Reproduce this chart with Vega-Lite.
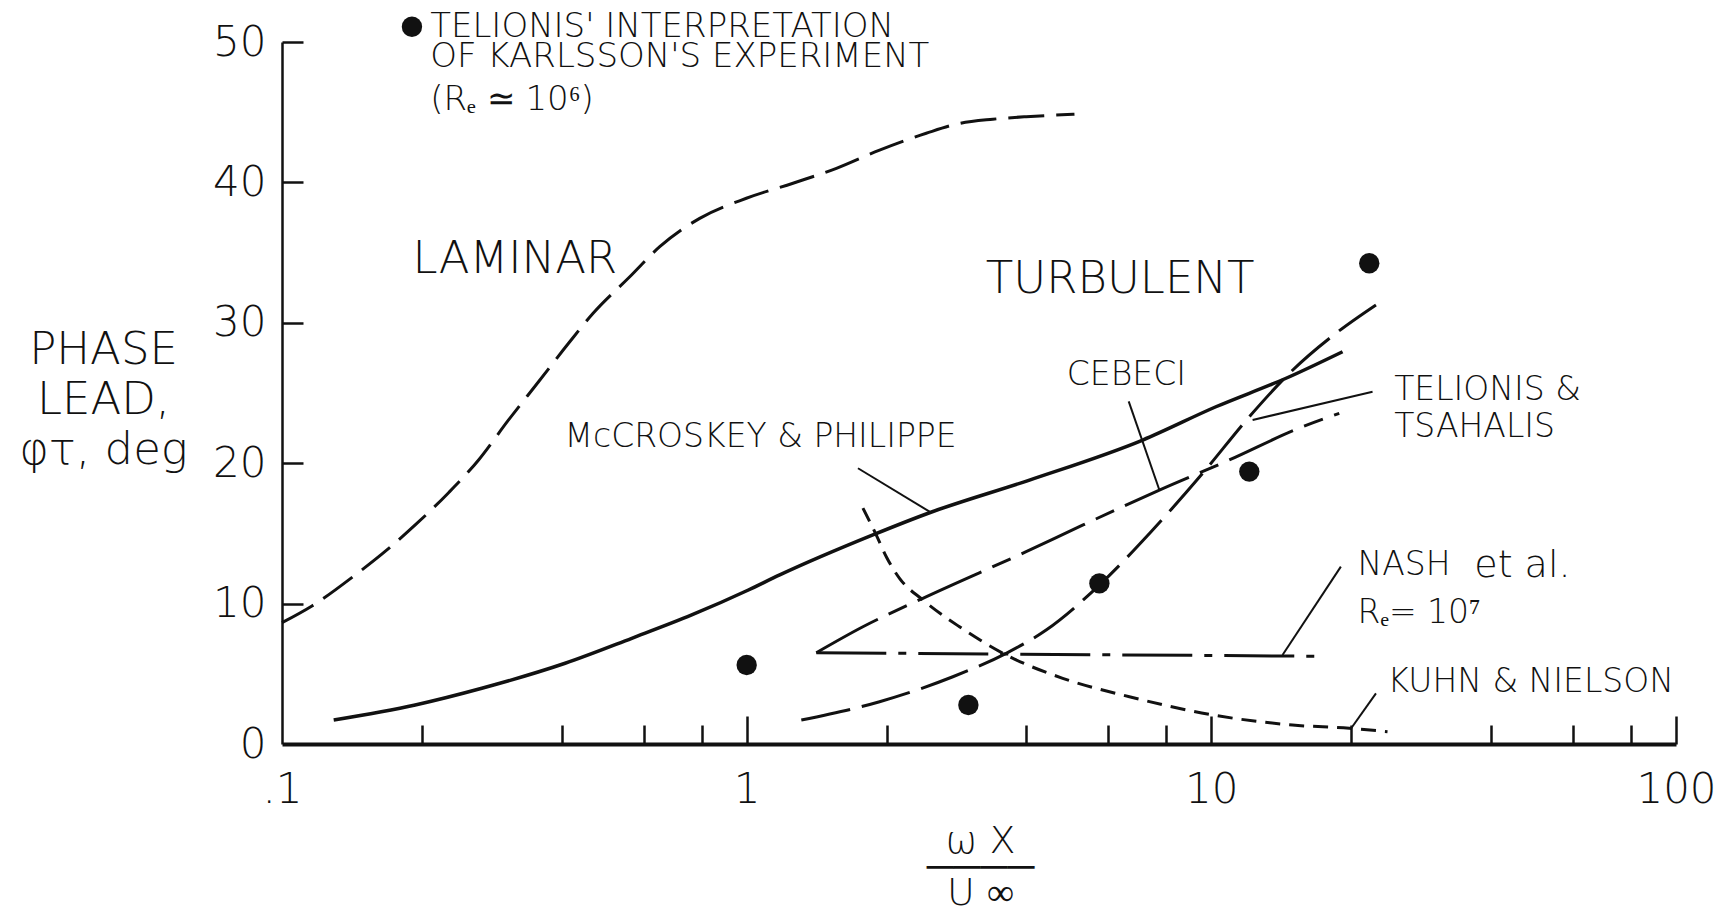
{
  "$schema": "https://vega.github.io/schema/vega-lite/v6.json",
  "width": 1394,
  "height": 702,
  "autosize": {"type": "none"},
  "padding": {"left": 282, "top": 42, "right": 59, "bottom": 176},
  "background": "white",
  "config": {"view": {"stroke": null}, "font": "DejaVu Sans"},
  "datasets": {
    "curves": [
      {"s": "Laminar", "x": 0.1, "y": 8.64},
      {"s": "Laminar", "x": 0.116, "y": 9.83},
      {"s": "Laminar", "x": 0.1438, "y": 12.04},
      {"s": "Laminar", "x": 0.1682, "y": 13.82},
      {"s": "Laminar", "x": 0.1935, "y": 15.6},
      {"s": "Laminar", "x": 0.2283, "y": 17.9},
      {"s": "Laminar", "x": 0.2649, "y": 20.23},
      {"s": "Laminar", "x": 0.3073, "y": 23.08},
      {"s": "Laminar", "x": 0.3565, "y": 25.8},
      {"s": "Laminar", "x": 0.4137, "y": 28.54},
      {"s": "Laminar", "x": 0.4672, "y": 30.68},
      {"s": "Laminar", "x": 0.5603, "y": 33.28},
      {"s": "Laminar", "x": 0.65, "y": 35.42},
      {"s": "Laminar", "x": 0.7924, "y": 37.44},
      {"s": "Laminar", "x": 0.9985, "y": 38.87},
      {"s": "Laminar", "x": 1.258, "y": 39.94},
      {"s": "Laminar", "x": 1.56, "y": 41.0},
      {"s": "Laminar", "x": 1.932, "y": 42.3},
      {"s": "Laminar", "x": 2.435, "y": 43.5},
      {"s": "Laminar", "x": 2.871, "y": 44.2},
      {"s": "Laminar", "x": 3.386, "y": 44.5},
      {"s": "Laminar", "x": 3.995, "y": 44.68},
      {"s": "Laminar", "x": 5.075, "y": 44.85},
      {"s": "McCroskey", "x": 0.1292, "y": 1.71},
      {"s": "McCroskey", "x": 0.1935, "y": 2.78},
      {"s": "McCroskey", "x": 0.2692, "y": 3.97},
      {"s": "McCroskey", "x": 0.4067, "y": 5.75},
      {"s": "McCroskey", "x": 0.5659, "y": 7.53},
      {"s": "McCroskey", "x": 0.7616, "y": 9.19},
      {"s": "McCroskey", "x": 1.0085, "y": 10.97},
      {"s": "McCroskey", "x": 1.178, "y": 12.04},
      {"s": "McCroskey", "x": 1.869, "y": 14.89},
      {"s": "McCroskey", "x": 2.475, "y": 16.47},
      {"s": "McCroskey", "x": 4.061, "y": 18.8},
      {"s": "McCroskey", "x": 7.117, "y": 21.65},
      {"s": "McCroskey", "x": 10.23, "y": 24.02},
      {"s": "McCroskey", "x": 14.48, "y": 26.05},
      {"s": "McCroskey", "x": 19.16, "y": 27.94},
      {"s": "Cebeci", "x": 1.412, "y": 6.5},
      {"s": "Cebeci", "x": 1.779, "y": 8.35},
      {"s": "Cebeci", "x": 2.394, "y": 10.38},
      {"s": "Cebeci", "x": 3.995, "y": 13.7},
      {"s": "Cebeci", "x": 5.2, "y": 15.48},
      {"s": "Cebeci", "x": 7.73, "y": 18.09},
      {"s": "Cebeci", "x": 10.93, "y": 20.23},
      {"s": "Cebeci", "x": 15.46, "y": 22.5},
      {"s": "Cebeci", "x": 18.85, "y": 23.55},
      {"s": "Telionis", "x": 1.311, "y": 1.71},
      {"s": "Telionis", "x": 1.932, "y": 3.01},
      {"s": "Telionis", "x": 2.778, "y": 4.79},
      {"s": "Telionis", "x": 3.618, "y": 6.46},
      {"s": "Telionis", "x": 4.411, "y": 8.12},
      {"s": "Telionis", "x": 5.742, "y": 11.32},
      {"s": "Telionis", "x": 7.418, "y": 15.12},
      {"s": "Telionis", "x": 9.579, "y": 19.28},
      {"s": "Telionis", "x": 12.07, "y": 23.31},
      {"s": "Telionis", "x": 14.72, "y": 26.4},
      {"s": "Telionis", "x": 18.54, "y": 29.25},
      {"s": "Telionis", "x": 22.61, "y": 31.27},
      {"s": "Nash", "x": 1.412, "y": 6.5},
      {"s": "Nash", "x": 17.07, "y": 6.25},
      {"s": "Kuhn", "x": 1.779, "y": 16.8},
      {"s": "Kuhn", "x": 1.9, "y": 14.9},
      {"s": "Kuhn", "x": 2.0, "y": 13.3},
      {"s": "Kuhn", "x": 2.133, "y": 11.8},
      {"s": "Kuhn", "x": 2.394, "y": 10.26},
      {"s": "Kuhn", "x": 2.871, "y": 8.35},
      {"s": "Kuhn", "x": 3.618, "y": 6.34},
      {"s": "Kuhn", "x": 4.788, "y": 4.68},
      {"s": "Kuhn", "x": 6.662, "y": 3.37},
      {"s": "Kuhn", "x": 10.07, "y": 2.07},
      {"s": "Kuhn", "x": 14.95, "y": 1.35},
      {"s": "Kuhn", "x": 19.81, "y": 1.12},
      {"s": "Kuhn", "x": 23.94, "y": 0.88}
    ],
    "leaders": [
      {"id": "McCroskey", "x": 1.736, "y": 19.64},
      {"id": "McCroskey", "x": 2.475, "y": 16.55},
      {"id": "Cebeci", "x": 6.64, "y": 24.4},
      {"id": "Cebeci", "x": 7.73, "y": 18.09},
      {"id": "Telionis", "x": 22.23, "y": 25.09},
      {"id": "Telionis", "x": 12.27, "y": 23.08},
      {"id": "Nash", "x": 19.0, "y": 12.63},
      {"id": "Nash", "x": 14.23, "y": 6.34},
      {"id": "Kuhn", "x": 22.61, "y": 3.61},
      {"id": "Kuhn", "x": 20.0, "y": 1.12}
    ],
    "points": [
      {"x": 1.0, "y": 5.63},
      {"x": 3.0, "y": 2.78},
      {"x": 5.742, "y": 11.44},
      {"x": 12.07, "y": 19.4},
      {"x": 21.87, "y": 34.24}
    ],
    "legendDot": [
      {"x": 0.1904, "y": 51.09}
    ],
    "notes": [
      {"role": "legend", "t": "TELIONIS' INTERPRETATION", "x": 0.2084, "y": 50.38},
      {"role": "legend", "t": "OF KARLSSON'S EXPERIMENT", "x": 0.2084, "y": 48.24},
      {"role": "legend", "t": "(Rₑ ≃ 10⁶)", "x": 0.2084, "y": 45.16},
      {"role": "region", "t": "LAMINAR", "x": 0.191, "y": 33.52},
      {"role": "region", "t": "TURBULENT", "x": 3.27, "y": 32.1},
      {"role": "series", "t": "CEBECI", "x": 4.886, "y": 25.57},
      {"role": "series", "t": "McCROSKEY & PHILIPPE", "x": 0.4055, "y": 21.18},
      {"role": "series", "t": "TELIONIS &", "x": 24.75, "y": 24.5},
      {"role": "series", "t": "TSAHALIS", "x": 24.75, "y": 21.89},
      {"role": "series", "t": "NASH", "x": 20.64, "y": 12.04},
      {"role": "etal", "t": "et al.", "x": 36.8, "y": 11.92},
      {"role": "series", "t": "Rₑ= 10⁷", "x": 20.64, "y": 8.59},
      {"role": "series", "t": "KUHN & NIELSON", "x": 23.94, "y": 3.73}
    ]
  },
  "layer": [
    {
      "data": {"name": "curves"},
      "transform": [{"filter": "datum.s == 'Laminar'"}],
      "mark": {"type": "line", "stroke": "#111", "strokeWidth": 3, "strokeDash": [36, 12], "interpolate": "monotone"},
      "encoding": {
        "x": {"field": "x", "type": "quantitative", "scale": {"type": "log", "domain": [0.1, 100], "nice": false},
          "axis": {"orient": "bottom", "values": [0.2, 0.4, 0.6, 0.8, 1, 2, 4, 6, 8, 10, 20, 40, 60, 80, 100], "labels": false, "domain": false, "grid": false, "title": null, "tickColor": "#111", "tickWidth": 2.5,
            "tickSize": {"condition": {"test": "datum.value == 1 || datum.value == 10 || datum.value == 100", "value": -28}, "value": -19}}},
        "y": {"field": "y", "type": "quantitative", "scale": {"domain": [0, 50], "nice": false, "zero": false},
          "axis": {"orient": "left", "values": [10, 20, 30, 40, 50], "labels": false, "domain": false, "grid": false, "title": null, "tickColor": "#111", "tickWidth": 2.5, "tickSize": -21}}
      }
    },
    {
      "data": {"name": "curves"},
      "transform": [{"filter": "datum.s == 'McCroskey'"}],
      "mark": {"type": "line", "stroke": "#111", "strokeWidth": 3.5, "interpolate": "monotone"},
      "encoding": {
        "x": {"field": "x", "type": "quantitative", "scale": {"type": "log", "domain": [0.1, 100], "nice": false},
          "axis": {"orient": "bottom", "values": [0.1, 1, 10, 100], "ticks": false, "grid": false, "domain": true, "domainColor": "#111", "domainWidth": 4,
            "labelExpr": "datum.value == 0.1 ? '.1' : format(datum.value, 'd')", "labelFont": "DejaVu Sans", "labelFontSize": 42, "labelFontWeight": 200, "labelColor": "#111",
            "labelBaseline": "alphabetic", "labelPadding": 58, "labelFlush": false, "labelOverlap": false, "labelBound": false,
            "title": ["ω X", "────", "U ∞"], "titleFont": "DejaVu Sans", "titleFontSize": 38, "titleFontWeight": 200, "titleColor": "#111",
            "titleLineHeight": 26, "titleBaseline": "alphabetic", "titleAlign": "center", "titleX": 698, "titleY": 108}},
        "y": {"field": "y", "type": "quantitative", "scale": {"domain": [0, 50], "nice": false, "zero": false},
          "axis": {"orient": "left", "values": [0, 10, 20, 30, 40, 50], "ticks": false, "grid": false, "domain": true, "domainColor": "#111", "domainWidth": 2.5,
            "labelFont": "DejaVu Sans", "labelFontSize": 42, "labelFontWeight": 200, "labelColor": "#111", "labelPadding": 16, "labelBaseline": "middle", "labelOverlap": false, "labelFlush": false,
            "title": ["PHASE", "LEAD,", "φτ, deg"], "titleFont": "DejaVu Sans", "titleFontSize": 45, "titleFontWeight": 200, "titleColor": "#111",
            "titleAngle": 0, "titleAlign": "center", "titleBaseline": "alphabetic", "titleLineHeight": 50, "titleX": -179, "titleY": 321}}
      }
    },
    {
      "data": {"name": "curves"},
      "transform": [{"filter": "datum.s == 'Cebeci'"}],
      "mark": {"type": "line", "stroke": "#111", "strokeWidth": 3, "strokeDash": [70, 12, 20, 12], "interpolate": "monotone"},
      "encoding": {
        "x": {"field": "x", "type": "quantitative", "scale": {"type": "log", "domain": [0.1, 100], "nice": false}, "axis": null},
        "y": {"field": "y", "type": "quantitative", "scale": {"domain": [0, 50], "nice": false, "zero": false}, "axis": null}
      }
    },
    {
      "data": {"name": "curves"},
      "transform": [{"filter": "datum.s == 'Telionis'"}],
      "mark": {"type": "line", "stroke": "#111", "strokeWidth": 3, "strokeDash": [50, 12], "interpolate": "monotone"},
      "encoding": {
        "x": {"field": "x", "type": "quantitative", "scale": {"type": "log", "domain": [0.1, 100], "nice": false}, "axis": null},
        "y": {"field": "y", "type": "quantitative", "scale": {"domain": [0, 50], "nice": false, "zero": false}, "axis": null}
      }
    },
    {
      "data": {"name": "curves"},
      "transform": [{"filter": "datum.s == 'Nash'"}],
      "mark": {"type": "line", "stroke": "#111", "strokeWidth": 3, "strokeDash": [70, 12, 8, 12]},
      "encoding": {
        "x": {"field": "x", "type": "quantitative", "scale": {"type": "log", "domain": [0.1, 100], "nice": false}, "axis": null},
        "y": {"field": "y", "type": "quantitative", "scale": {"domain": [0, 50], "nice": false, "zero": false}, "axis": null}
      }
    },
    {
      "data": {"name": "curves"},
      "transform": [{"filter": "datum.s == 'Kuhn'"}],
      "mark": {"type": "line", "stroke": "#111", "strokeWidth": 3, "strokeDash": [15, 9], "interpolate": "monotone"},
      "encoding": {
        "x": {"field": "x", "type": "quantitative", "scale": {"type": "log", "domain": [0.1, 100], "nice": false}, "axis": null},
        "y": {"field": "y", "type": "quantitative", "scale": {"domain": [0, 50], "nice": false, "zero": false}, "axis": null}
      }
    },
    {
      "data": {"name": "leaders"},
      "mark": {"type": "line", "stroke": "#111", "strokeWidth": 2},
      "encoding": {
        "x": {"field": "x", "type": "quantitative", "scale": {"type": "log", "domain": [0.1, 100], "nice": false}, "axis": null},
        "y": {"field": "y", "type": "quantitative", "scale": {"domain": [0, 50], "nice": false, "zero": false}, "axis": null},
        "detail": {"field": "id"}
      }
    },
    {
      "data": {"name": "points"},
      "mark": {"type": "circle", "fill": "#111", "opacity": 1, "size": 415},
      "encoding": {
        "x": {"field": "x", "type": "quantitative", "scale": {"type": "log", "domain": [0.1, 100], "nice": false}, "axis": null},
        "y": {"field": "y", "type": "quantitative", "scale": {"domain": [0, 50], "nice": false, "zero": false}, "axis": null}
      }
    },
    {
      "data": {"name": "legendDot"},
      "mark": {"type": "circle", "fill": "#111", "opacity": 1, "size": 415},
      "encoding": {
        "x": {"field": "x", "type": "quantitative", "scale": {"type": "log", "domain": [0.1, 100], "nice": false}, "axis": null},
        "y": {"field": "y", "type": "quantitative", "scale": {"domain": [0, 50], "nice": false, "zero": false}, "axis": null}
      }
    },
    {
      "data": {"name": "notes"},
      "transform": [{"filter": "datum.role == 'legend'"}],
      "mark": {"type": "text", "align": "left", "baseline": "alphabetic", "font": "DejaVu Sans", "fontSize": 34, "fontWeight": 200, "fill": "#111"},
      "encoding": {
        "x": {"field": "x", "type": "quantitative", "scale": {"type": "log", "domain": [0.1, 100], "nice": false}, "axis": null},
        "y": {"field": "y", "type": "quantitative", "scale": {"domain": [0, 50], "nice": false, "zero": false}, "axis": null},
        "text": {"field": "t"}
      }
    },
    {
      "data": {"name": "notes"},
      "transform": [{"filter": "datum.role == 'region'"}],
      "mark": {"type": "text", "align": "left", "baseline": "alphabetic", "font": "DejaVu Sans", "fontSize": 45, "fontWeight": 200, "fill": "#111"},
      "encoding": {
        "x": {"field": "x", "type": "quantitative", "scale": {"type": "log", "domain": [0.1, 100], "nice": false}, "axis": null},
        "y": {"field": "y", "type": "quantitative", "scale": {"domain": [0, 50], "nice": false, "zero": false}, "axis": null},
        "text": {"field": "t"}
      }
    },
    {
      "data": {"name": "notes"},
      "transform": [{"filter": "datum.role == 'series'"}],
      "mark": {"type": "text", "align": "left", "baseline": "alphabetic", "font": "DejaVu Sans", "fontSize": 33, "fontWeight": 200, "fill": "#111"},
      "encoding": {
        "x": {"field": "x", "type": "quantitative", "scale": {"type": "log", "domain": [0.1, 100], "nice": false}, "axis": null},
        "y": {"field": "y", "type": "quantitative", "scale": {"domain": [0, 50], "nice": false, "zero": false}, "axis": null},
        "text": {"field": "t"}
      }
    },
    {
      "data": {"name": "notes"},
      "transform": [{"filter": "datum.role == 'etal'"}],
      "mark": {"type": "text", "align": "left", "baseline": "alphabetic", "font": "DejaVu Sans", "fontSize": 38, "fontWeight": 200, "fill": "#111"},
      "encoding": {
        "x": {"field": "x", "type": "quantitative", "scale": {"type": "log", "domain": [0.1, 100], "nice": false}, "axis": null},
        "y": {"field": "y", "type": "quantitative", "scale": {"domain": [0, 50], "nice": false, "zero": false}, "axis": null},
        "text": {"field": "t"}
      }
    }
  ],
  "resolve": {"axis": {"x": "independent", "y": "independent"}}
}
